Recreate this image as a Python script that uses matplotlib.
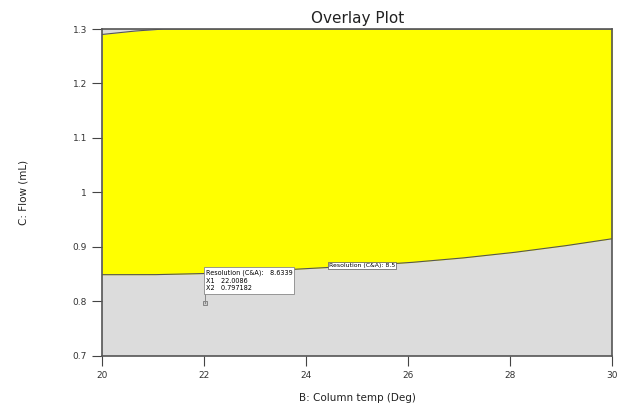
import numpy as np
import matplotlib.pyplot as plt

# Design space bounds
temp = [20, 21, 22, 23, 24, 25, 26, 27, 28, 29, 30]
flow_low = [0.849, 0.849, 0.851, 0.855, 0.860, 0.865, 0.871, 0.879, 0.889, 0.901, 0.915]   # Resolution (C&A) = 8.5 contour
temp_top = [20, 20.6, 21.2, 30]
flow_top = [1.290, 1.296, 1.300, 1.300]

flag_x, flag_y = 22.0086, 0.797182
flag_res = 8.6339
contour_level = 8.5

fig = plt.figure(figsize=(6.19, 4.03), dpi=100)
ax = fig.add_axes([0.165, 0.117, 0.824, 0.811])

ax.set_xlim(20, 30)
ax.set_ylim(0.7, 1.3)
ax.set_facecolor('#dcdcdc')

xs = np.linspace(20, 30, 200)
lo = np.interp(xs, temp, flow_low)
hi = np.interp(xs, temp_top, flow_top)
ax.fill_between(xs, lo, hi, color='#ffff00', lw=0)
ax.plot(xs, lo, color='#555555', lw=0.8)
ax.plot(xs, hi, color='#555555', lw=0.8)

# contour label
ax.text(25.1, np.interp(25.1, temp, flow_low), f'Resolution (C&A): {contour_level:g}',
        fontsize=4.4, ha='center', va='center',
        bbox=dict(facecolor='white', edgecolor='#555555', lw=0.5, pad=0.6))

# flag point
ax.plot([flag_x], [flag_y], marker='s', ms=2.5, mfc='#cccccc', mec='#777777', mew=0.6)
ax.plot([flag_x, flag_x], [flag_y, 0.82], color='#888888', lw=0.7)
ax.text(flag_x + 0.02, 0.838,
        f'Resolution (C&A):   {flag_res:.4f}\nX1   {flag_x:.4f}\nX2   {flag_y:.6f}',
        fontsize=4.7, ha='left', va='center', linespacing=1.3,
        bbox=dict(facecolor='white', edgecolor='#888888', lw=0.6, pad=1.5))

ax.set_xticks(temp[::2])
ax.set_xticklabels([str(t) for t in temp[::2]])
ax.set_yticks([0.7, 0.8, 0.9, 1.0, 1.1, 1.2, 1.3])
ax.set_yticklabels(['0.7', '0.8', '0.9', '1', '1.1', '1.2', '1.3'])
ax.tick_params(labelsize=6.5, length=7, width=0.8, color='#444444', labelcolor='#333333', pad=4)

for s in ax.spines.values():
    s.set_color('#555555')
    s.set_linewidth(1.2)

ax.set_title('Overlay Plot', fontsize=11, color='#222222', pad=4)
ax.set_xlabel('B: Column temp (Deg)', fontsize=7.5, color='#222222', labelpad=9)
ax.set_ylabel('C: Flow (mL)', fontsize=7.5, color='#222222', labelpad=32)

fig.savefig('out.png', dpi=100)
